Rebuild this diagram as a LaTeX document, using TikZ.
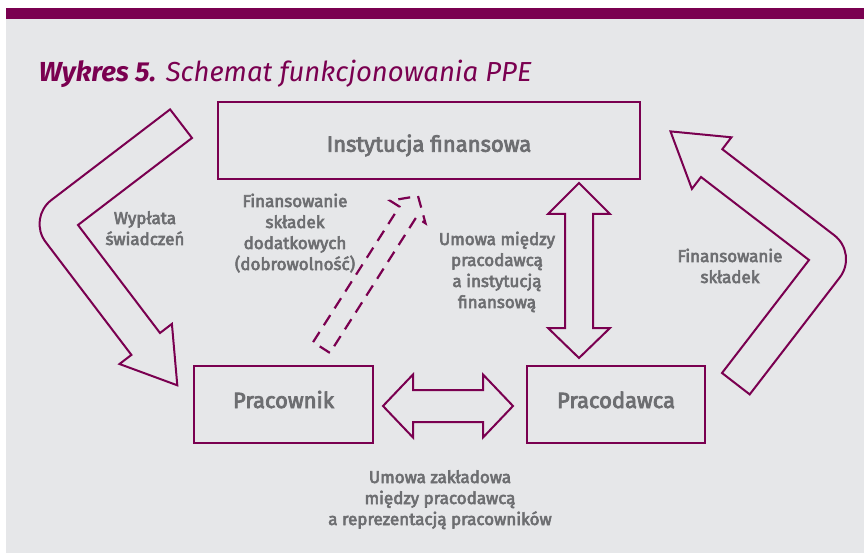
\documentclass[tikz,border=0pt]{standalone}
\usepackage{fontspec}
\setmainfont{Fira Sans}
\newfontfamily\lblfont[FakeBold=3.5]{Fira Sans}
\usetikzlibrary{calc}
\definecolor{mag}{HTML}{7A0050}
\definecolor{bgc}{HTML}{E6E7E9}
\definecolor{txt}{HTML}{6D6E71}
\begin{document}
\begin{tikzpicture}[x=1pt,y=-1pt,
  box/.style={draw=mag, line width=2.5pt, text=txt, inner sep=0pt,
    font=\lblfont\fontsize{22}{26}\selectfont},
  blk/.style={draw=mag, line width=2pt, line join=miter},
  dsh/.style={draw=mag, line width=2.2pt, dash pattern=on 12pt off 8pt},
  lbl/.style={text=txt, inner sep=0pt, align=center, anchor=base,
    font=\lblfont\fontsize{17}{21}\selectfont},
]
\useasboundingbox (0,0) rectangle (864,553);
\fill[white] (0,0) rectangle (864,553);
\fill[bgc] (6,19) rectangle (864,553);
\fill[mag] (6,8) rectangle (864,19);

\node[anchor=base west, text=mag, inner sep=0pt,
  font=\fontsize{27.5}{30}\selectfont\itshape] (title) at (38.6,82)
  {\textbf{Wykres 5.} Schemat funkcjonowania PPE};

% boxes
\node[box, minimum width=422pt, minimum height=77pt, text height=24pt, text depth=1.6pt]
  (inst) at (429,140.5) {Instytucja finansowa};
\node[box, minimum width=179pt, minimum height=77pt, text height=15pt, text depth=8pt]
  (prac) at (283.5,404.5) {Pracownik};
\node[box, minimum width=178pt, minimum height=77pt, text height=15pt, text depth=8pt]
  (pdaw) at (616,404.5) {Pracodawca};

% left curved arrow (Wyplata swiadczen)
\coordinate (LC) at (27.5,218.3);
\coordinate (LP1) at (45.7,242.1);
\coordinate (LP2) at (51.3,200.1);
\draw[blk] (192,138) -- (78,225) -- (160,333) -- (171.9,323.9) -- (177.3,385.3)
  -- (119.5,364) -- (131.4,354.9) -- (LP1)
  .. controls ($(LP1)!0.552!(LC)$) and ($(LP2)!0.552!(LC)$) .. (LP2)
  -- (170.1,109.4) -- cycle;

% right curved arrow (Finansowanie skladek)
\coordinate (RC) at (858.1,253.6);
\coordinate (RP1) at (839.8,277.4);
\coordinate (RP2) at (834.3,235.3);
\draw[blk] (722,373) -- (809,260) -- (701,177) -- (691.9,188.9) -- (670.5,131.4)
  -- (731.4,137.3) -- (722.3,149.2) -- (RP2)
  .. controls ($(RP2)!0.552!(RC)$) and ($(RP1)!0.552!(RC)$) .. (RP1)
  -- (749.7,394.4) -- cycle;

% vertical double arrow
\draw[blk] (579,183) -- (610,214) -- (593,214) -- (593,328) -- (610,328) -- (579,358)
  -- (548,328) -- (565,328) -- (565,214) -- (548,214) -- cycle;

% horizontal double arrow
\draw[blk] (383,406) -- (413,374.5) -- (413,390) -- (483,390) -- (483,374.5) -- (513,406)
  -- (483,437.5) -- (483,422) -- (413,422) -- (413,437.5) -- cycle;

% dashed arrow
\draw[dsh] (313.1,342.1) -- (399.4,206.6) -- (390.1,200.7) -- (418,196) -- (425.5,223.3)
  -- (416.2,217.4) -- (329.9,352.9) -- cycle;

% labels (anchor=base is the last line's baseline)
\node[lbl] (l1) at (145,245) {Wypłata\\świadczeń};
\node[lbl] (l2) at (730,283) {Finansowanie\\składek};
\node[lbl] (l3) at (295,270) {Finansowanie\\składek\\dodatkowych\\(dobrowolność)};
\node[lbl] (l4) at (497,308) {Umowa między\\pracodawcą\\a instytucją\\finansową};
\node[lbl] (l5) at (440,525) {Umowa zakładowa\\między pracodawcą\\a reprezentacją pracowników};
\end{tikzpicture}
\end{document}
